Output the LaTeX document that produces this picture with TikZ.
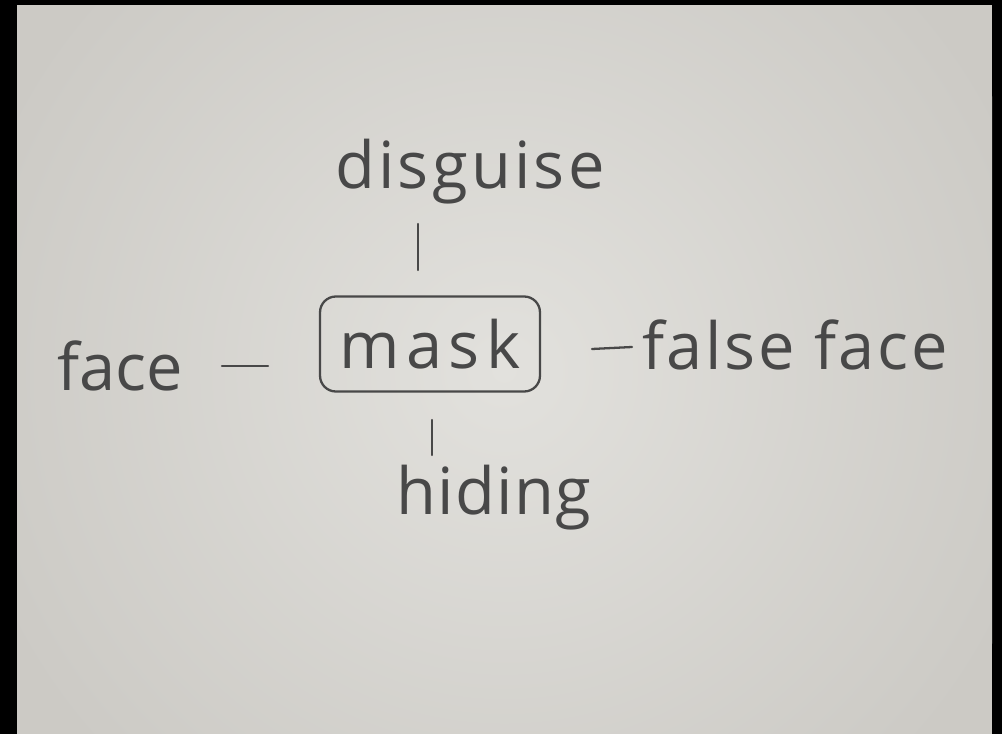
\documentclass[tikz,border=0pt]{standalone}
\usepackage{fontspec}
\setmainfont{Open Sans}
\usepackage{tikz}
\usetikzlibrary{arrows.meta}

\definecolor{paper}{RGB}{204,202,197}
\definecolor{paperlight}{RGB}{226,225,221}
\definecolor{pencil}{RGB}{72,72,72}

\begin{document}
\begin{tikzpicture}
[x=0.02cm,y=-0.02cm
,word/.style={text=pencil,inner sep=0pt,font=\fontsize{37}{40}\selectfont}
,wide/.style={font=\fontsize{37}{40}\selectfont\addfontfeature{LetterSpace=#1}}
,keyword/.style={word,draw=pencil,line width=1.3pt,rounded corners=9pt,minimum width=4.4cm,minimum height=1.9cm}
,stroke/.style={draw=pencil,line width=1.3pt,line cap=round}]
% photo of the sheet
\fill[black] (0,0) rectangle (1002,734);
\begin{scope}
\clip (17,5) rectangle (992,734);
\fill[paper] (17,5) rectangle (992,734);
\shade[inner color=paperlight,outer color=paper] (504,370) circle (560);
\end{scope}
\useasboundingbox (0,0) rectangle (1002,734);

\node[keyword,wide=10] (mask) at (430,344) {mask};
\node[word,wide=5] (disguise) at (470,172) {disguise};
\node[word,wide=2] (hiding) at (494,498) {hiding};
\node[word] (face) at (120,366) {face};
\node[word,wide=4] (falseface) at (795,345) {false face};

\coordinate (d1) at (418,224);
\coordinate (d2) at (418,270);
\coordinate (h1) at (432,420);
\coordinate (h2) at (432,455);
\coordinate (f1) at (222,366);
\coordinate (f2) at (268,366);
\coordinate (g1) at (592,349);
\coordinate (g2) at (632,347);

\draw[stroke] (d1) -- (d2);
\draw[stroke] (h1) -- (h2);
\draw[stroke] (f1) -- (f2);
\draw[stroke] (g1) -- (g2);
\end{tikzpicture}
\end{document}
